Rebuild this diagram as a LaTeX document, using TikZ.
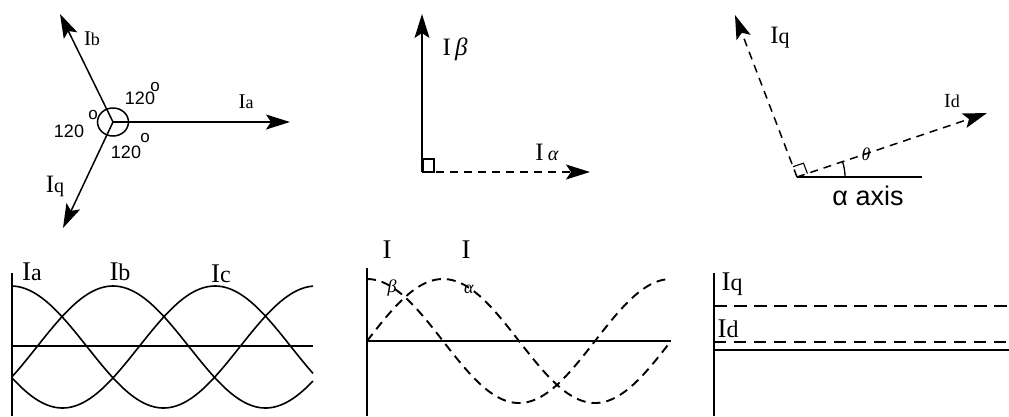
\documentclass[tikz,border=0pt]{standalone}
\usepackage{fontspec}
\setmainfont{Liberation Serif}
\newfontfamily\arialf{Liberation Sans}
\usetikzlibrary{arrows.meta}
\newcommand\fsz[1]{\fontsize{#1}{#1}\selectfont}
\begin{document}
\begin{tikzpicture}[x=1pt,y=-1pt,
  vec/.style={line width=1.5pt,-{Stealth[length=24pt,width=15pt,inset=5pt]}},
  lbl/.style={inner sep=0pt,anchor=base},
  deg/.style={font=\arialf\fsz{18},inner sep=0pt,anchor=base},
  dego/.style={font=\arialf\fsz{17},inner sep=0pt},
  ax/.style={line width=1.5pt},
  wave/.style={line width=1.6pt},
  dwave/.style={line width=1.9pt,dash pattern=on 9pt off 6pt},
  dvec/.style={vec,dash pattern=on 8pt off 6pt},
]
\useasboundingbox (0,0) rectangle (1009,416);
% ---------- panel 1: three phase vectors
\coordinate (O1) at (113,122);
\coordinate (Ta) at (290,122);
\coordinate (Tb) at (60,14);
\coordinate (Tc) at (63,228);
\draw[ax] (O1) ellipse [x radius=15.5pt, y radius=14pt];
\draw[vec] (O1) -- (Ta);
\draw[vec] (O1) -- (Tb);
\draw[vec] (O1) -- (Tc);
\node[lbl] (lIb) at (92,45) {\fsz{21}I\fsz{18}b};
\node[lbl] (lIa) at (246,108) {\fsz{21}I\fsz{18}a};
\node[lbl] (lIc) at (55,192) {\fsz{25}I\fsz{20}q};
\node[deg] (d1) at (140,104) {120};
\node[dego] (o1) at (155,87) {o};
\node[deg] (d2) at (69,137) {120};
\node[dego] (o2) at (93,115) {o};
\node[deg] (d3) at (126,158) {120};
\node[dego] (o3) at (145,138) {o};
% ---------- panel 2: alpha-beta
\coordinate (O2) at (422,172);
\coordinate (Tbeta) at (422,14);
\coordinate (Talpha) at (590,172);
\draw[vec] (O2) -- (Tbeta);
\draw[dvec,line width=1.6pt] (O2) -- (Talpha);
\draw[line width=1.1pt] (423,159) rectangle (434,172);
\node[lbl] (lIbeta) at (455,55) {\fsz{25}I\,\textit{β}};
\node[lbl] (lIalpha) at (547,160) {\fsz{25}I\,\fsz{20}\textit{α}};
% ---------- panel 3: d-q
\coordinate (O3) at (797,177);
\coordinate (Eax) at (922,177);
\coordinate (Tq) at (735,15);
\coordinate (Td) at (987,113);
\draw[ax] (O3) -- (Eax);
\draw[dvec] (O3) -- (Tq);
\draw[dvec] (O3) -- (Td);
\draw[line width=1.1pt] (807.4,173.5) -- (803.5,163.2) -- (793.1,166.7);
\draw[line width=1.3pt] plot[domain=0:18.6,samples=12] ({797+48*cos(\x)},{177-48*sin(\x)});
\node[inner sep=0pt,font=\fsz{18}] (lth) at (866,154) {\textit{θ}};
\node[lbl] (lIq3) at (780,43) {\fsz{25}I\fsz{22}q};
\node[lbl] (lId3) at (952,107) {\fsz{20}I\fsz{18}d};
\node[lbl,font=\arialf\fsz{27}] (lax) at (868,205) {α axis};
% ---------- panel 4: three phase waves
\draw[ax] (12,273) -- (12,416);
\draw[ax] (12,346) -- (313,346);
\draw[wave] plot[domain=12:313,samples=120] ({\x},{347-61*cos(1.18033*(\x-11))});
\draw[wave] plot[domain=12:313,samples=120] ({\x},{347-61*cos(1.18033*(\x-113))});
\draw[wave] plot[domain=12:313,samples=120] ({\x},{347-61*cos(1.18033*(\x-215))});
\node[lbl] (wIa) at (32,280) {\fsz{27}I\fsz{24}a};
\node[lbl] (wIb) at (120,280) {\fsz{27}I\fsz{24}b};
\node[lbl] (wIc) at (221,282) {\fsz{27}I\fsz{24}c};
% ---------- panel 5: alpha-beta waves
\draw[ax] (367,268) -- (367,416);
\draw[ax] (367,341) -- (671,341);
\draw[dwave] plot[domain=367:671,samples=120] ({\x},{341-62*sin(1.18421*(\x-367))});
\draw[dwave] plot[domain=367:671,samples=120] ({\x},{341-62*cos(1.18421*(\x-367))});
\node[lbl] (wIbI) at (387,258) {\fsz{27}I};
\node[inner sep=0pt,font=\fsz{18}] (wIbs) at (392,288) {\textit{β}};
\node[lbl] (wIaI) at (466,258) {\fsz{27}I};
\node[inner sep=0pt,font=\fsz{18}] (wIas) at (469,289) {\textit{α}};
% ---------- panel 6: d-q constants
\draw[ax] (714,273) -- (714,416);
\draw[ax] (714,350) -- (1009,350);
\draw[line width=2.8pt,dash pattern=on 13pt off 7pt] (714,306) -- (1009,306);
\draw[line width=1.4pt,dash pattern=on 12pt off 8pt] (714,342) -- (1009,342);
\node[lbl] (wIq) at (732,290) {\fsz{27}I\fsz{24}q};
\node[lbl] (wId) at (728,337) {\fsz{27}I\fsz{24}d};
\end{tikzpicture}
\end{document}
